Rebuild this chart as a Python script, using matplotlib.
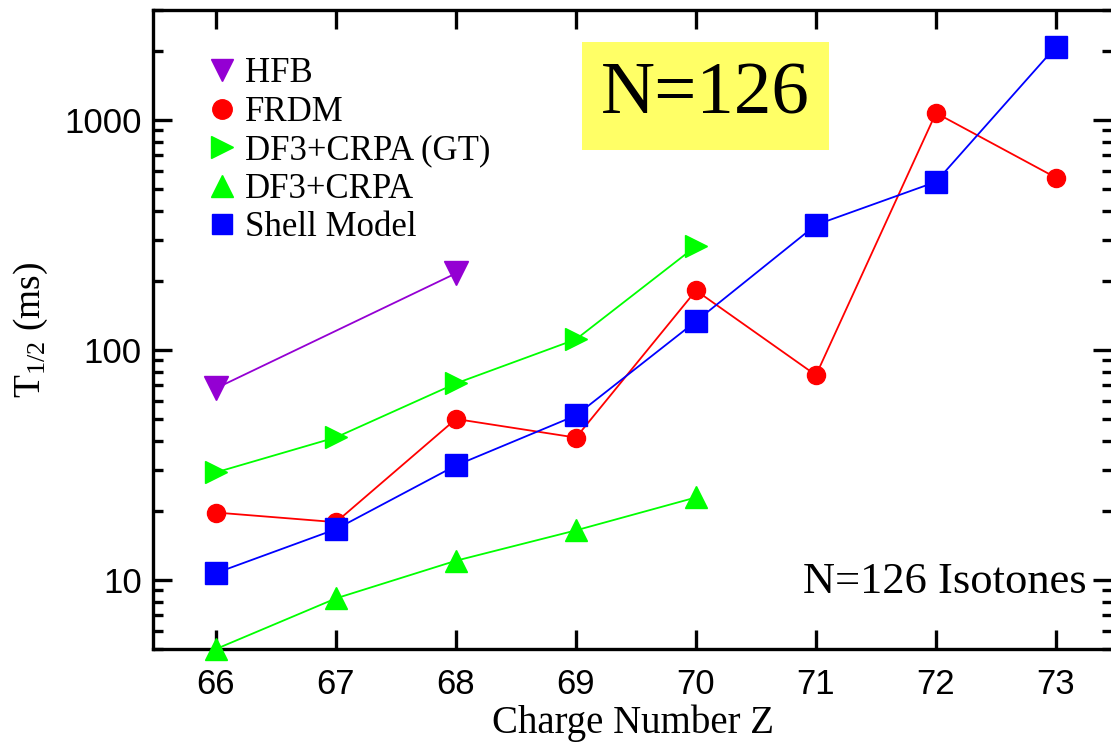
import matplotlib
matplotlib.use("Agg")
import matplotlib.pyplot as plt
from matplotlib.lines import Line2D
from matplotlib.ticker import LogLocator, NullFormatter, FixedLocator

# ---- data ----
Z_hfb = [66, 68]
T_hfb = [68, 215]

Z_frdm = [66, 67, 68, 69, 70, 71, 72, 73]
T_frdm = [19.6, 17.8, 50, 41.5, 181, 77.5, 1070, 560]

Z_gt = [66, 67, 68, 69, 70]
T_gt = [29.3, 41.6, 71.4, 111, 282]

Z_crpa = [66, 67, 68, 69, 70]
T_crpa = [5.0, 8.3, 12.1, 16.4, 22.8]

Z_sm = [66, 67, 68, 69, 70, 71, 72, 73]
T_sm = [10.7, 16.6, 31.4, 51.8, 133, 349, 537, 2080]

x_ticks = [66, 67, 68, 69, 70, 71, 72, 73]
y_ticks = [10, 100, 1000]
labels = ["HFB", "FRDM", "DF3+CRPA (GT)", "DF3+CRPA", "Shell Model"]

plt.rcParams['mathtext.default'] = 'regular'
SERIF = ['Liberation Serif', 'DejaVu Serif']
SANS = ['Liberation Sans', 'DejaVu Sans']

fig = plt.figure(figsize=(11.11, 7.49), dpi=100)
ax = fig.add_axes([153/1111, 100/749, (1112-153)/1111, (649-10)/749])

lw = 1.3
ax.plot(Z_hfb, T_hfb, color='#9400d3', lw=lw, marker='v', ms=17, mec='#9400d3', label=labels[0])
ax.plot(Z_frdm, T_frdm, color='#ff0000', lw=lw, marker='o', ms=13, mec='#ff0000', label=labels[1])
ax.plot(Z_gt, T_gt, color='#00ff00', lw=lw, marker='>', ms=16, mec='#00ff00', label=labels[2])
ax.plot(Z_crpa, T_crpa, color='#00ff00', lw=lw, marker='^', ms=16, mec='#00ff00', label=labels[3], clip_on=False, zorder=3)
ax.plot(Z_sm, T_sm, color='#0000ff', lw=lw, marker='s', ms=16, mec='#0000ff', label=labels[4], zorder=4)

ax.set_yscale('log')
ax.set_xlim(65.475, 73.467)
ax.set_ylim(5, 3000)

ax.xaxis.set_major_locator(FixedLocator(x_ticks))
ax.set_xticklabels([str(v) for v in x_ticks], family=SANS, fontsize=25)
ax.yaxis.set_major_locator(FixedLocator(y_ticks))
ax.set_yticklabels([str(v) for v in y_ticks], family=SANS, fontsize=25)
ax.yaxis.set_minor_locator(LogLocator(base=10, subs=range(2, 10)))
ax.yaxis.set_minor_formatter(NullFormatter())
ax.xaxis.set_minor_locator(FixedLocator([]))

ax.tick_params(axis='both', which='major', direction='in', length=14, width=2.4,
               top=True, right=True)
ax.tick_params(axis='y', which='minor', direction='in', length=7, width=2.4, right=True, left=True)
ax.tick_params(axis='x', which='major', pad=14)
ax.tick_params(axis='y', which='major', pad=8)
for s in ax.spines.values():
    s.set_linewidth(2.4)

ax.set_xlabel('Charge Number Z', family=SERIF, fontsize=28, labelpad=2)
ax.set_ylabel(r'T$_{1/2}$ (ms)', family=SERIF, fontsize=27, labelpad=10)

# legend with markers only
handles = [
    Line2D([], [], ls='none', marker='v', ms=16, color='#9400d3'),
    Line2D([], [], ls='none', marker='o', ms=14, color='#ff0000'),
    Line2D([], [], ls='none', marker='>', ms=16, color='#00ff00'),
    Line2D([], [], ls='none', marker='^', ms=16, color='#00ff00'),
    Line2D([], [], ls='none', marker='s', ms=14, color='#0000ff'),
]
leg = ax.legend(handles, labels, loc='upper left', bbox_to_anchor=(0.043, 0.948),
                frameon=False, handlelength=0.8, handletextpad=0.25,
                labelspacing=0.16, borderaxespad=0,
                prop={'family': SERIF, 'size': 25})

# N=126 box
fig.patches.append(plt.Rectangle((582/1111, 1-150/749), (829-582)/1111, (150-42)/749,
                                 transform=fig.transFigure, fc='#ffff66', ec='none', zorder=0.5))
fig.text((582+829)/2/1111, 1 - (42+150)/2/749, 'N=126', ha='center', va='center',
         family=SERIF, fontsize=54)

fig.text(1087/1111, 1 - 593/749, 'N=126 Isotones',
         ha='right', va='baseline', family=SERIF, fontsize=32)

fig.savefig('out.png', dpi=100)
